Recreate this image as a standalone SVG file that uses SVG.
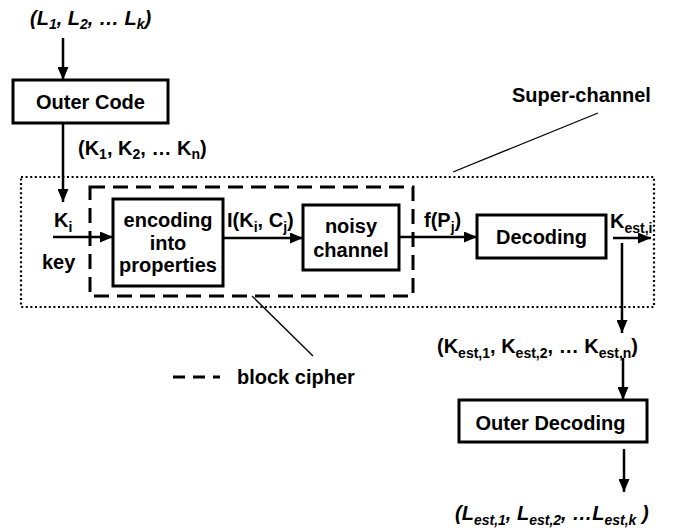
<svg xmlns="http://www.w3.org/2000/svg" width="686" height="531" viewBox="0 0 686 531">
<defs>
<style>
text{font-family:"Liberation Sans",Arial,sans-serif;font-weight:bold;font-size:20px;fill:#000}
.it{font-style:italic}
.sub{font-size:14px}
.box{fill:#fff;stroke:#000;stroke-width:3}
.ln{fill:none;stroke:#000;stroke-width:2.5}
.thin{fill:none;stroke:#000;stroke-width:1.3}
.dot{fill:none;stroke:#000;stroke-width:2.2;stroke-dasharray:2 2.6}
.dash{fill:none;stroke:#000;stroke-width:3;stroke-dasharray:15 8}
</style>
<marker id="ah" markerUnits="userSpaceOnUse" markerWidth="13" markerHeight="11" refX="13" refY="5.5" orient="auto">
<path d="M0,0 L13,5.5 L0,11 z" fill="#000"/>
</marker>
</defs>
<rect width="686" height="531" fill="#fff"/>

<g id="superchannel">
<rect class="dot" x="21" y="177" width="633" height="130"/>
<line class="thin" x1="598" y1="113" x2="453" y2="172"/>
<text x="512" y="102">Super-channel</text>
</g>

<g id="blockcipher">
<rect class="dash" x="90" y="187" width="323" height="109"/>
<line class="thin" x1="252" y1="296" x2="313" y2="356"/>
<line x1="173" y1="377" x2="220" y2="377" stroke="#000" stroke-width="3" stroke-dasharray="12 8"/>
<text x="237" y="384">block cipher</text>
</g>

<g id="connectors">
<line class="ln" x1="63" y1="38" x2="63" y2="80" marker-end="url(#ah)"/>
<line class="ln" x1="63" y1="123" x2="63" y2="202" marker-end="url(#ah)"/>
<line class="ln" x1="53" y1="237" x2="113" y2="237" marker-end="url(#ah)"/>
<line class="ln" x1="223" y1="238" x2="303" y2="238" marker-end="url(#ah)"/>
<line class="ln" x1="399" y1="237" x2="477" y2="237" marker-end="url(#ah)"/>
<line class="ln" x1="613" y1="238" x2="651" y2="238" marker-end="url(#ah)"/>
<line class="ln" x1="622" y1="243" x2="622" y2="333" marker-end="url(#ah)"/>
<line class="ln" x1="623" y1="358" x2="623" y2="400" marker-end="url(#ah)"/>
<line class="ln" x1="624" y1="449" x2="624" y2="492" marker-end="url(#ah)"/>
</g>

<g id="labels">
<text class="it" x="30" y="25">(L<tspan class="sub" dy="4">1</tspan><tspan dy="-4">, L</tspan><tspan class="sub" dy="4">2</tspan><tspan dy="-4">, … L</tspan><tspan class="sub" dy="4">k</tspan><tspan dy="-4">)</tspan></text>
<text x="78" y="155">(K<tspan class="sub" dy="4">1</tspan><tspan dy="-4">, K</tspan><tspan class="sub" dy="4">2</tspan><tspan dy="-4">, … K</tspan><tspan class="sub" dy="4">n</tspan><tspan dy="-4">)</tspan></text>
<text x="54" y="227">K<tspan class="sub" dy="5">i</tspan></text>
<text x="42" y="269">key</text>
<text x="227" y="227">I(K<tspan class="sub" dy="5">i</tspan><tspan dy="-5">, C</tspan><tspan class="sub" dy="5">j</tspan><tspan dy="-5">)</tspan></text>
<text x="424" y="227">f(P<tspan class="sub" dy="5">j</tspan><tspan dy="-5">)</tspan></text>
<text x="610" y="228">K<tspan class="sub" dy="5">est,i</tspan></text>
<text x="437" y="353">(K<tspan class="sub" dy="5">est,1</tspan><tspan dy="-5">, K</tspan><tspan class="sub" dy="5">est,2</tspan><tspan dy="-5">, … K</tspan><tspan class="sub" dy="5">est,n</tspan><tspan dy="-5">)</tspan></text>
<text class="it" x="455" y="520">(L<tspan class="sub" dy="5">est,1</tspan><tspan dy="-5">, L</tspan><tspan class="sub" dy="5">est,2</tspan><tspan dy="-5">, …L</tspan><tspan class="sub" dy="5">est,k</tspan><tspan dy="-5"> )</tspan></text>
</g>

<g id="outercode">
<rect class="box" x="13" y="80" width="155" height="43"/>
<text x="90.5" y="109" text-anchor="middle">Outer Code</text>
</g>

<g id="encoding">
<rect class="box" x="113" y="199" width="110" height="87"/>
<text x="168" y="227" text-anchor="middle">encoding</text>
<text x="168" y="249.5" text-anchor="middle">into</text>
<text x="168" y="272" text-anchor="middle">properties</text>
</g>

<g id="noisy">
<rect class="box" x="303" y="205" width="96" height="65"/>
<text x="351" y="233" text-anchor="middle">noisy</text>
<text x="351" y="257" text-anchor="middle">channel</text>
</g>

<g id="decoding">
<rect class="box" x="477" y="215" width="129" height="43"/>
<text x="541.5" y="244" text-anchor="middle">Decoding</text>
</g>

<g id="outerdecoding">
<rect class="box" x="459" y="400" width="188" height="42"/>
<text x="550.5" y="430" text-anchor="middle">Outer Decoding</text>
</g>
</svg>
